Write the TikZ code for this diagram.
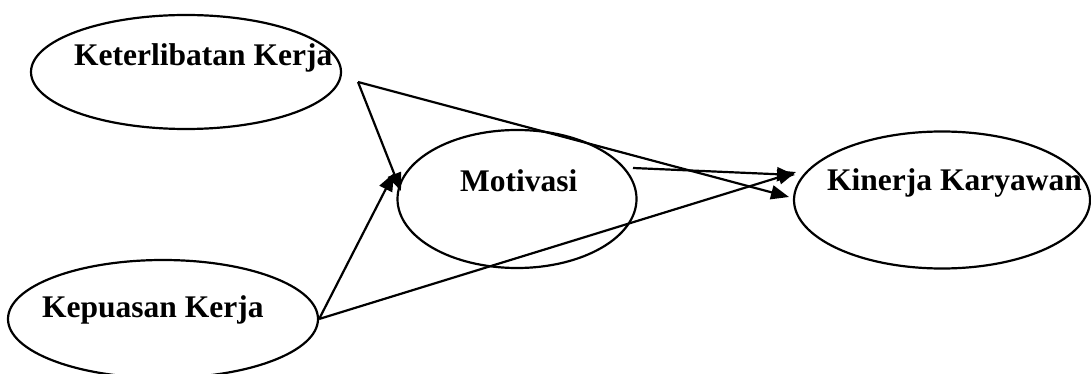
\documentclass[tikz,border=0pt]{standalone}
\usepackage{fontspec}
\setmainfont{Liberation Serif}
\usetikzlibrary{shapes.geometric,arrows.meta}

\begin{document}
\begin{tikzpicture}[x=1pt, y=-1pt,
    var/.style={draw, ellipse, line width=2.2pt, inner sep=0pt},
    lbl/.style={anchor=base west, inner sep=0pt, font=\fontsize{31.5}{31.5}\selectfont\bfseries},
    path/.style={line width=2.2pt, -{Triangle[length=18pt,width=14pt]}}]

    \useasboundingbox (0,0) rectangle (1091,374);

    % Variables
    \node[var, minimum width=310pt, minimum height=114pt] (kk) at (186,72) {};
    \node[lbl] (kk-txt) at (74,66) {Keterlibatan Kerja};

    \node[var, minimum width=310pt, minimum height=118pt] (kp) at (163,319) {};
    \node[lbl] (kp-txt) at (42,317) {Kepuasan Kerja};

    \node[var, minimum width=239pt, minimum height=138pt] (mo) at (517,199) {};
    \node[lbl] (mo-txt) at (460,191) {Motivasi};

    \node[var, minimum width=296pt, minimum height=137pt] (ki) at (942,200) {};
    \node[lbl] (ki-txt) at (827,190) {Kinerja Karyawan};

    % Free ends of the paths
    \coordinate (kk-out) at (358,82);
    \coordinate (mo-out) at (633,168);
    \coordinate (mo-in1) at (401,191);
    \coordinate (mo-in2) at (394,173);
    \coordinate (ki-in1) at (795,175);
    \coordinate (ki-in2) at (789,197);
    \coordinate (ki-in3) at (796,172);

    % Paths
    \draw[path] (kk-out) -- (mo-in1);
    \draw[path] (kk-out) -- (ki-in2);
    \draw[path] (mo-out) -- (ki-in1);
    \draw[path] (kp.east) -- (mo-in2);
    \draw[path] (kp.east) -- (ki-in3);

\end{tikzpicture}
\end{document}
